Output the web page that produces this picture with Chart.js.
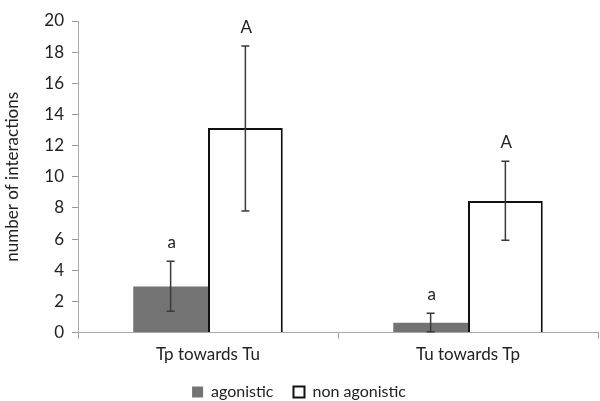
<!DOCTYPE html>
<html><head><meta charset="utf-8">
<script src="https://cdn.jsdelivr.net/npm/chart.js@4"></script>
<style>html,body{margin:0;padding:0;background:#fff}#w{width:600px;height:401px}</style>
</head><body><div id="w"><canvas id="c"></canvas></div>
<script>
const categories = ["Tp towards Tu", "Tu towards Tp"];
const agonistic = [2.96, 0.64];
const agonisticErrLow = [1.37, 0.05];
const agonisticErrHigh = [4.58, 1.24];
const agonisticLetters = ["a", "a"];
const nonAgonistic = [13.14, 8.44];
const nonAgonisticErrLow = [7.8, 5.92];
const nonAgonisticErrHigh = [18.4, 11.0];
const nonAgonisticLetters = ["A", "A"];
const yTicks = [0, 2, 4, 6, 8, 10, 12, 14, 16, 18, 20];

const FONT = "Lato, 'Open Sans', sans-serif";
const errLow = [agonisticErrLow, nonAgonisticErrLow];
const errHigh = [agonisticErrHigh, nonAgonisticErrHigh];
const letters = [agonisticLetters, nonAgonisticLetters];

const errPlugin = {
  id: 'err',
  afterDatasetsDraw(chart) {
    const ctx = chart.ctx, y = chart.scales.y;
    ctx.save();
    chart.data.datasets.forEach((ds, di) => {
      const meta = chart.getDatasetMeta(di);
      meta.data.forEach((bar, i) => {
        const x = bar.x;
        const yl = y.getPixelForValue(errLow[di][i]);
        const yh = y.getPixelForValue(errHigh[di][i]);
        ctx.strokeStyle = '#3a3a3a';
        ctx.lineWidth = 1.5;
        ctx.beginPath();
        ctx.moveTo(x, yl); ctx.lineTo(x, yh);
        ctx.moveTo(x - 4, yl); ctx.lineTo(x + 4, yl);
        ctx.moveTo(x - 4, yh); ctx.lineTo(x + 4, yh);
        ctx.stroke();
        ctx.fillStyle = '#222';
        ctx.font = "17px " + FONT;
        ctx.textAlign = 'center';
        ctx.textBaseline = 'bottom';
        ctx.fillText(letters[di][i], x + 1, yh - 10);
      });
    });
    ctx.restore();
  }
};

new Chart(document.getElementById('c'), {
  type: 'bar',
  data: {
    labels: categories,
    datasets: [
      { label: 'agonistic', data: agonistic, backgroundColor: '#737373', borderWidth: 0,
        barPercentage: 1, categoryPercentage: 0.575 },
      { label: 'non agonistic', data: nonAgonistic, backgroundColor: '#ffffff', borderColor: '#111',
        borderWidth: 2, barPercentage: 1, categoryPercentage: 0.575 }
    ]
  },
  options: {
    responsive: true, maintainAspectRatio: false, animation: false,
    layout: { padding: { top: 21, right: 2, left: 0, bottom: -9 } },
    plugins: {
      legend: {
        position: 'bottom',
        labels: { font: { size: 16, family: FONT }, color: '#222', boxWidth: 11, boxHeight: 11, padding: 20 }
      },
      tooltip: { enabled: false }
    },
    scales: {
      x: {
        afterFit(s) { s.height -= 7; },
        grid: { display: true, drawOnChartArea: false, offset: true, tickLength: 6, color: '#999' },
        border: { color: '#aaa', width: 1 },
        ticks: { font: { size: 17, family: FONT }, color: '#222', padding: 6 }
      },
      y: {
        min: 0, max: 20,
        afterBuildTicks(s) { s.ticks = yTicks.map(v => ({ value: v })); },
        afterFit(s) { s.width = 78; },
        grid: { display: true, drawOnChartArea: false, tickLength: 6, color: '#999' },
        border: { color: '#aaa', width: 1 },
        ticks: { font: { size: 17, family: FONT }, color: '#222', padding: 8 },
        title: { display: true, text: 'number of interactions', font: { size: 17, family: FONT }, color: '#222', padding: 2 }
      }
    }
  },
  plugins: [errPlugin]
});
</script></body></html>
